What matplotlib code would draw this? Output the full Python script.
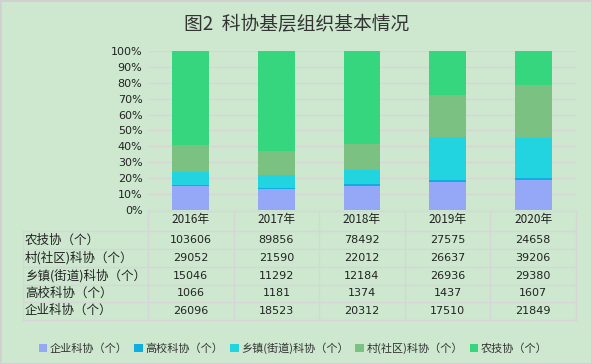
import numpy as np
import matplotlib
matplotlib.use("Agg")
import matplotlib.pyplot as plt
from matplotlib.patches import Patch
from matplotlib.lines import Line2D
from matplotlib.transforms import blended_transform_factory

plt.rcParams['font.family'] = ['Noto Sans CJK SC', 'DejaVu Sans']

YEARS = ["2016年", "2017年", "2018年", "2019年", "2020年"]
SERIES = ["企业科协（个）", "高校科协（个）", "乡镇(街道)科协（个）", "村(社区)科协（个）", "农技协（个）"]
QIYE = [26096, 18523, 20312, 17510, 21849]
GAOXIAO = [1066, 1181, 1374, 1437, 1607]
XIANGZHEN = [15046, 11292, 12184, 26936, 29380]
CUN = [29052, 21590, 22012, 26637, 39206]
NONGJI = [103606, 89856, 78492, 27575, 24658]
TABLE_LABELS = ["农技协（个）", "村(社区)科协（个）", "乡镇(街道)科协（个）", "高校科协（个）", "企业科协（个）"]
COLORS = ["#95a8f8", "#10aee0", "#22d3e0", "#7ac182", "#36d67f"]

BG = "#cde8cf"
GRID = "#d6d6d6"
W, H = 592, 364


def fy(py):
    return 1 - py / H


def fx(px):
    return px / W


fig = plt.figure(figsize=(W / 100, H / 100), dpi=100, facecolor=BG)
ax = fig.add_axes([fx(148), fy(210), fx(576) - fx(148), fy(51) - fy(210)])
ax.set_facecolor(BG)

values = [QIYE, GAOXIAO, XIANGZHEN, CUN, NONGJI]
data = np.array(values, dtype=float)
pct = data / data.sum(axis=0) * 100
x = np.arange(len(YEARS))
bottom = np.zeros(len(YEARS))
for row, col, name in zip(pct, COLORS, SERIES):
    ax.bar(x, row, 0.43, bottom=bottom, color=col, label=name, zorder=3)
    bottom += row

ax.set_xlim(-0.5, len(YEARS) - 0.5)
ax.set_ylim(0, 100)
ax.set_yticks(np.arange(0, 101, 10))
ax.set_yticklabels([f"{v}%" for v in range(0, 101, 10)], fontsize=8, color="#222222",
                   family=['DejaVu Sans'])
ax.set_xticks([])
ax.tick_params(axis="y", length=0, pad=4)
ax.grid(axis="y", color=GRID, linewidth=1, zorder=0)
for s in ax.spines.values():
    s.set_visible(False)

fig.text(fx(297), fy(24), "图2  科协基层组织基本情况", ha="center", va="center",
         fontsize=13.5, color="#333333")

# data table under the chart
trans = blended_transform_factory(ax.transData, fig.transFigure)
row_lines = [211, 231, 249, 267, 284.5, 302, 319.5]
edges = np.arange(len(YEARS) + 1) - 0.5
for yl in row_lines[1:]:
    fig.add_artist(Line2D([fx(23), fx(576)], [fy(yl), fy(yl)], color=GRID, lw=1))
fig.add_artist(Line2D([fx(148), fx(576)], [fy(211), fy(211)], color=GRID, lw=1))
for e in edges:
    fig.add_artist(Line2D([e, e], [fy(211), fy(319.5)], color=GRID, lw=1, transform=trans))
fig.add_artist(Line2D([fx(23), fx(23)], [fy(231), fy(319.5)], color=GRID, lw=1))

for i, yr in enumerate(YEARS):
    fig.text(i, fy(220), yr, transform=trans, ha="center", va="center", fontsize=8.5,
             color="#222222")

table_rows = [NONGJI, CUN, XIANGZHEN, GAOXIAO, QIYE]
for r, (lab, vals) in enumerate(zip(TABLE_LABELS, table_rows)):
    yc = (row_lines[r + 1] + row_lines[r + 2]) / 2
    fig.text(fx(25), fy(yc), lab, ha="left", va="center", fontsize=9, color="#222222")
    for i, v in enumerate(vals):
        fig.text(i, fy(yc), str(v), transform=trans, ha="center", va="center",
                 fontsize=8, color="#222222", family=['DejaVu Sans'])

handles = [Patch(facecolor=c, edgecolor="none", label=n) for c, n in zip(COLORS, SERIES)]
fig.legend(handles=handles, loc="center", bbox_to_anchor=(fx(293), fy(348)), ncol=5,
           frameon=False, fontsize=8, handlelength=0.8, handleheight=0.8,
           handletextpad=0.2, columnspacing=0.6, labelcolor="#333333")

fig.add_artist(plt.Rectangle((0, 0), 1, 1, transform=fig.transFigure, fill=False,
                             edgecolor="#d0d0d0", lw=2))

fig.savefig("out.png", dpi=100, facecolor=BG)
